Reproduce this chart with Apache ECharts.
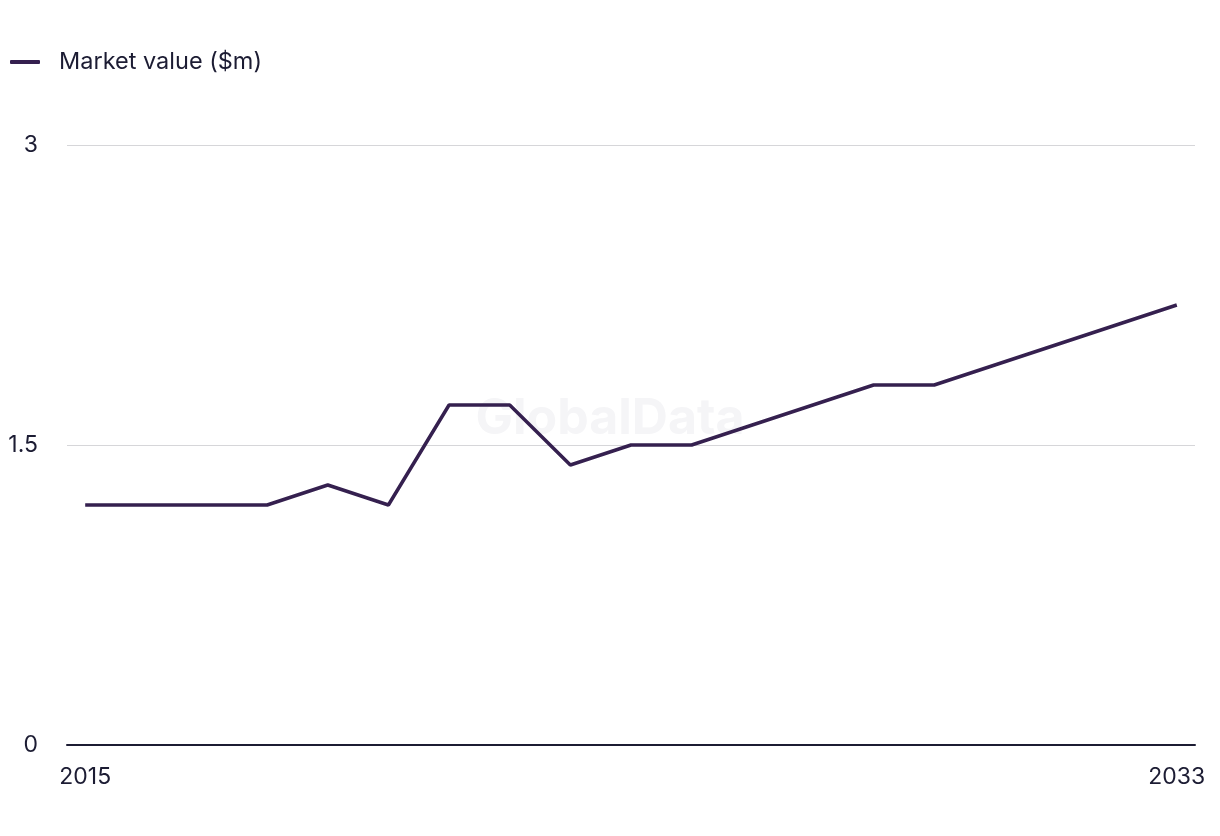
<!DOCTYPE html>
<html>
<head>
<meta charset="utf-8">
<script src="https://cdn.jsdelivr.net/npm/echarts@6/dist/echarts.min.js"></script>
<style>html,body{margin:0;padding:0;background:#fff}#c{width:1220px;height:836px}</style>
</head>
<body>
<div id="c"></div>
<script>
const years = [2015,2016,2017,2018,2019,2020,2021,2022,2023,2024,2025,2026,2027,2028,2029,2030,2031,2032,2033];
const marketValue = [1.2,1.2,1.2,1.2,1.3,1.2,1.7,1.7,1.4,1.5,1.5,1.6,1.7,1.8,1.8,1.9,2.0,2.1,2.2];
const xTickLabels = [2015, 2033];
const yTicks = [0, 1.5, 3];
const seriesName = 'Market value ($m)';

const chart = echarts.init(document.getElementById('c'), null, {renderer:'canvas'});
const font = 'Inter, "Noto Sans", sans-serif';
chart.setOption({
  animation: false,
  textStyle: {fontFamily: font},
  graphic: [{
    type: 'text', left: 'center', top: 394, z: 0, silent: true,
    style: {text: 'GlobalData', fill: '#f5f5f7', font: 'bold 50px ' + font}
  }],
  legend: {
    left: 5, top: 45, itemWidth: 30, itemHeight: 4, itemGap: 10,
    icon: 'roundRect',
    textStyle: {fontSize: 23.5, color: '#1c1c33', fontFamily: font, padding: [0,0,0,14]},
    data: [seriesName]
  },
  grid: {left: 67, right: 25, top: 145, bottom: 91, containLabel: false},
  xAxis: {
    type: 'value', min: 2014.7, max: 2033.3,
    axisLine: {show: true, lineStyle: {color: '#1c1c33', width: 2}},
    axisTick: {show: false},
    splitLine: {show: false},
    axisLabel: {
      customValues: xTickLabels, fontSize: 23, color: '#1c1c33', margin: 21,
      fontFamily: font, formatter: v => String(v)
    }
  },
  yAxis: {
    type: 'value', min: 0, max: 3, interval: 1.5,
    axisLine: {show: false}, axisTick: {show: false},
    splitLine: {lineStyle: {color: '#d6d6d9', width: 1}},
    axisLabel: {fontSize: 23, color: '#1c1c33', margin: 29, fontFamily: font,
      customValues: yTicks, formatter: v => String(v)}
  },
  series: [{
    name: seriesName, type: 'line', z: 5,
    data: years.map((y, i) => [y, marketValue[i]]),
    showSymbol: false, symbol: 'none',
    lineStyle: {color: '#35204f', width: 3.5},
    itemStyle: {color: '#35204f'}
  }]
});
</script>
</body>
</html>
